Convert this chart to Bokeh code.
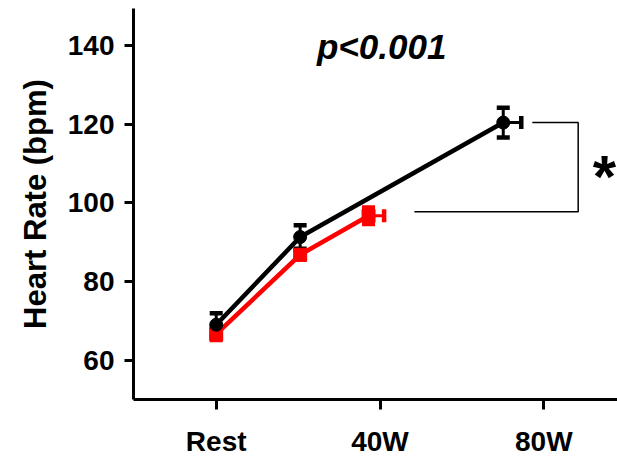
from bokeh.plotting import figure
from bokeh.models import ColumnDataSource, Whisker, TeeHead, FixedTicker, Range1d, Label
from bokeh.embed import file_html
from bokeh.resources import INLINE

# ---- data ----
tick_watts = [0, 40, 80]
tick_labels = ["Rest", "40W", "80W"]

black_x = [0, 20.5, 70.1]
black_y = [69.0, 91.3, 120.4]
black_yerr = [2.9, 3.0, 3.8]
black_xerr = [0, 0, 4.4]

red_x = [0, 20.5, 37.2]
red_y = [66.6, 86.8, 96.7]
red_yerr = [1.5, 1.2, 2.1]
red_xerr = [0, 0, 3.8]

bracket_x_left = 48.4
bracket_x_top_start = 77.2
bracket_x_right = 88.4
bracket_y_top = 120.4
bracket_y_bottom = 97.7

FONT = "Liberation Sans"

p = figure(width=617, height=459, output_backend="svg", toolbar_location=None,
           x_range=Range1d(-20.2, 98), y_range=Range1d(50, 149.4),
           min_border_left=133, min_border_right=0, min_border_top=8, min_border_bottom=57)
p.outline_line_color = None
p.xgrid.visible = False
p.ygrid.visible = False
p.background_fill_color = "white"

for ax in (p.xaxis[0], p.yaxis[0]):
    ax.axis_line_width = 3
    ax.axis_line_color = "black"
    ax.major_tick_line_width = 3
    ax.major_tick_line_color = "black"
    ax.minor_tick_line_color = None
    ax.major_label_text_font = FONT
    ax.major_label_text_font_style = "bold"
    ax.major_label_text_font_size = "28px"
    ax.major_label_text_color = "black"
    ax.major_tick_in = 0

p.xaxis.ticker = FixedTicker(ticks=tick_watts)
p.xaxis.major_label_overrides = {w: l for w, l in zip(tick_watts, tick_labels)}
p.xaxis.major_tick_out = 10
p.xaxis.major_label_standoff = 16

p.yaxis.ticker = FixedTicker(ticks=[60, 80, 100, 120, 140])
p.yaxis.major_tick_out = 9
p.yaxis.major_label_standoff = 10
p.yaxis.axis_label = "Heart Rate (bpm)"
p.yaxis.axis_label_text_font = FONT
p.yaxis.axis_label_text_font_style = "bold"
p.yaxis.axis_label_text_font_size = "31px"
p.yaxis.axis_label_text_color = "black"
p.yaxis.axis_label_standoff = 12

def series(xs, ys, yerr, xerr, color, marker):
    src = ColumnDataSource(dict(
        x=xs, y=ys,
        ylo=[v - e for v, e in zip(ys, yerr)],
        yhi=[v + e for v, e in zip(ys, yerr)],
        xhi=[v + e for v, e in zip(xs, xerr)],
    ))
    p.line("x", "y", source=src, line_color=color, line_width=4.5)
    p.add_layout(Whisker(source=src, base="x", lower="ylo", upper="yhi", dimension="height",
                         line_color=color, line_width=3,
                         upper_head=TeeHead(size=13, line_width=4.5, line_color=color),
                         lower_head=TeeHead(size=13, line_width=4.5, line_color=color)))
    hsrc = ColumnDataSource(dict(
        y=[v for v, e in zip(ys, xerr) if e > 0],
        x=[v for v, e in zip(xs, xerr) if e > 0],
        xhi=[v + e for v, e in zip(xs, xerr) if e > 0],
    ))
    p.add_layout(Whisker(source=hsrc, base="y", lower="x", upper="xhi", dimension="width",
                         line_color=color, line_width=3,
                         upper_head=TeeHead(size=13, line_width=4.5, line_color=color),
                         lower_head=None))
    p.scatter("x", "y", source=src, marker=marker, size=13, fill_color=color, line_color=color)

series(red_x, red_y, red_yerr, red_xerr, "#ff0000", "square")
series(black_x, black_y, black_yerr, black_xerr, "black", "circle")

# significance bracket
p.line([bracket_x_top_start, bracket_x_right, bracket_x_right, bracket_x_left],
       [bracket_y_top, bracket_y_top, bracket_y_bottom, bracket_y_bottom],
       line_color="black", line_width=1.5)

p.add_layout(Label(x=94.8, y=106.8, text="*", text_font=FONT, text_font_style="bold",
                   text_font_size="60px", text_align="center", text_baseline="middle",
                   text_color="black"))
p.add_layout(Label(x=40.4, y=139.8, text="p<0.001", text_font=FONT, text_font_style="bold italic",
                   text_font_size="35px", text_align="center", text_baseline="alphabetic",
                   text_color="black"))

open("out.html", "w").write(file_html(p, INLINE))
